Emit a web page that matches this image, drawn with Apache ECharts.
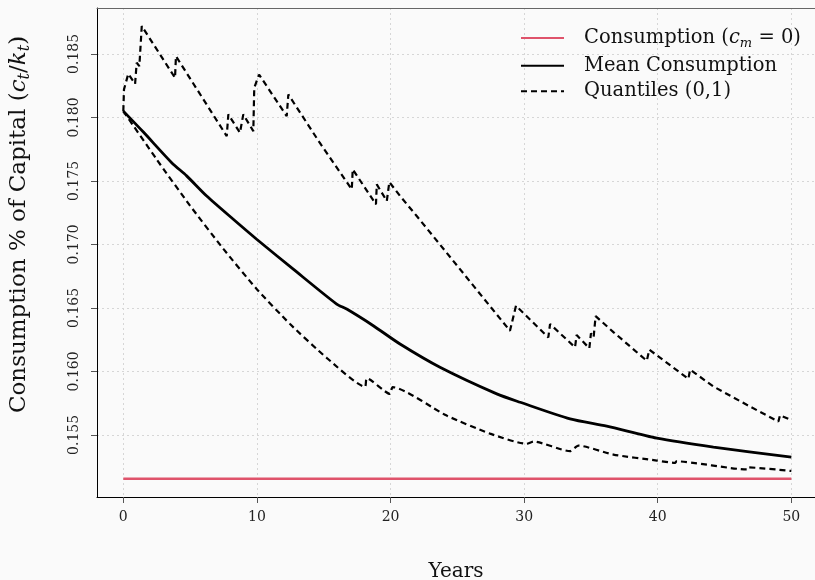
<!DOCTYPE html>
<html><head><meta charset="utf-8">
<script src="https://cdn.jsdelivr.net/npm/echarts@6/dist/echarts.min.js"></script>
<style>html,body{margin:0;padding:0;background:#fafafa;} #c{width:815px;height:580px;}</style>
</head><body><div id="c"></div>
<script>
// ---- data ----
const xTicks = [0, 10, 20, 30, 40, 50];
const yTicks = [0.155, 0.160, 0.165, 0.170, 0.175, 0.180, 0.185];

const baseX = [0, 50];
const baseY = [0.15154, 0.15154];

const meanX = [0, 1.5, 3.62, 4.74, 6.24, 8.23, 9.98, 12.72, 15.97, 16.72, 18.71, 20.71, 23.7, 27.95, 29.7, 33.44, 36.18, 39.93, 44.17, 50];
const meanY = [0.18050, 0.17885, 0.17644, 0.17540, 0.17381, 0.17198, 0.17041, 0.16805, 0.16530, 0.16491, 0.16360, 0.16216, 0.16033, 0.15823, 0.15757, 0.15626, 0.15569, 0.15474, 0.15404, 0.15325];

const upX = [0, 0.05, 0.37, 0.88, 1.0, 1.2, 1.38, 3.87, 3.94, 7.74, 7.86, 8.73, 8.98, 9.73, 9.80, 10.16, 12.23, 12.35, 14.7, 17.1, 17.17, 18.91, 18.97, 19.72, 19.91, 20.71, 21.96, 25.7, 28.94, 29.39, 31.81, 31.94, 33.81, 33.93, 34.88, 35.0, 35.2, 35.35, 36.7, 39.18, 39.37, 42.29, 42.42, 44.17, 46.66, 49.03, 49.15, 50];
const upY = [0.18050, 0.18221, 0.18343, 0.18264, 0.18431, 0.18404, 0.18720, 0.18312, 0.18482, 0.17853, 0.18024, 0.17880, 0.18024, 0.17892, 0.18233, 0.18338, 0.18010, 0.18181, 0.17801, 0.17434, 0.17591, 0.17316, 0.17473, 0.17342, 0.17491, 0.17382, 0.17224, 0.16740, 0.16320, 0.16517, 0.16268, 0.16373, 0.16190, 0.16287, 0.16182, 0.16300, 0.16270, 0.16435, 0.16308, 0.16084, 0.16171, 0.15941, 0.16014, 0.15881, 0.15737, 0.15605, 0.15655, 0.15617];

const lowX = [0, 2.5, 4.99, 7.49, 9.98, 12.48, 15.22, 18.09, 18.22, 19.96, 20.16, 24.2, 27.45, 30.19, 30.69, 33.44, 34.06, 36.68, 39.93, 41.3, 41.4, 46.66, 46.75, 50];
const lowY = [0.18050, 0.17669, 0.17306, 0.16965, 0.16649, 0.16373, 0.16107, 0.15880, 0.15946, 0.15823, 0.15876, 0.15652, 0.15510, 0.15430, 0.15448, 0.15372, 0.15416, 0.15345, 0.15298, 0.15280, 0.15292, 0.15228, 0.15244, 0.15216];

const names = ['Consumption (c_m = 0)', 'Mean Consumption', 'Quantiles (0,1)'];

// ---- chart ----
function pairs(xs, ys) { return xs.map((x, i) => [x, ys[i]]); }
const FONT = 'DejaVu Serif';
const chart = echarts.init(document.getElementById('c'), null, {renderer: 'canvas'});

function richSet(size) {
  return {
    n: {fontFamily: FONT, fontSize: size, color: '#111', lineHeight: size + 5, verticalAlign: 'middle'},
    i: {fontFamily: FONT, fontSize: size, fontStyle: 'italic', color: '#111', lineHeight: size + 5, verticalAlign: 'middle'},
    s: {fontFamily: FONT, fontSize: Math.round(size * 0.68), fontStyle: 'italic', color: '#111',
        lineHeight: Math.round(size * 0.68), verticalAlign: 'bottom'}
  };
}

const XMIN = -1.97, XMAX = 51.77;
const gridLine = {show: true, lineStyle: {color: '#d6d6d6', type: [2, 3], width: 1}};

chart.setOption({
  backgroundColor: '#fafafa',
  animation: false,
  grid: {left: 97, right: 0, top: 8, bottom: 83, show: false, containLabel: false, outerBoundsMode: 'none'},
  legend: {
    orient: 'vertical', left: 515, top: 23, itemWidth: 43, itemHeight: 14, itemGap: 5.5,
    data: names,
    itemStyle: {color: 'rgba(0,0,0,0)', borderColor: 'rgba(0,0,0,0)', borderWidth: 0},
    textStyle: {padding: [0, 0, 0, 15], rich: richSet(19.5)},
    formatter: function (name) {
      if (name === names[0]) return '{n|Consumption (}{i|c}{s|m}{n| = 0)}';
      return '{n|' + name + '}';
    }
  },
  xAxis: [{
    type: 'value', min: XMIN, max: XMAX,
    axisLine: {show: true, onZero: false, lineStyle: {color: '#000', width: 1}},
    axisTick: {show: true, length: 6, customValues: xTicks, lineStyle: {color: '#555'}},
    axisLabel: {customValues: xTicks, margin: 13, fontFamily: FONT, fontSize: 14, color: '#222'},
    splitLine: gridLine,
    name: 'Years', nameLocation: 'middle', nameGap: 65,
    nameTextStyle: {fontFamily: FONT, fontSize: 20, color: '#111'}
  }, {
    type: 'value', position: 'top', min: XMIN, max: XMAX,
    axisLine: {show: true, onZero: false, lineStyle: {color: '#666', width: 1}},
    axisTick: {show: false}, axisLabel: {show: false}, splitLine: {show: false}
  }],
  yAxis: {
    type: 'value', min: 0.15011, max: 0.18862,
    axisLine: {show: true, onZero: false, lineStyle: {color: '#000', width: 1}},
    axisTick: {show: true, length: 6, customValues: yTicks, lineStyle: {color: '#555'}},
    axisLabel: {customValues: yTicks, rotate: 90, margin: 16, fontFamily: FONT, fontSize: 14, color: '#222',
      formatter: v => v.toFixed(3)},
    splitLine: gridLine,
    name: '{n|Consumption % of Capital (}{i|c}{s|t}{n|/}{i|k}{s|t}{n|)}',
    nameLocation: 'middle', nameGap: 64, nameRotate: 90,
    nameTextStyle: {rich: richSet(23), padding: [0, 0, 0, 56]}
  },
  series: [
    {name: names[0], type: 'line', data: pairs(baseX, baseY), showSymbol: false, symbol: 'none',
     lineStyle: {color: '#DF536B', width: 2.5}, itemStyle: {color: '#DF536B'}},
    {name: names[1], type: 'line', data: pairs(meanX, meanY), showSymbol: false, symbol: 'none', smooth: 0.25,
     lineStyle: {color: '#000', width: 2.8}, itemStyle: {color: '#000'}},
    {name: names[2], type: 'line', data: pairs(upX, upY), showSymbol: false, symbol: 'none',
     lineStyle: {color: '#000', width: 2.2, type: [6, 4]}, itemStyle: {color: '#000'}},
    {name: names[2], type: 'line', data: pairs(lowX, lowY), showSymbol: false, symbol: 'none', smooth: 0.2,
     lineStyle: {color: '#000', width: 2.2, type: [6, 4]}, itemStyle: {color: '#000'}}
  ]
});
</script></body></html>
